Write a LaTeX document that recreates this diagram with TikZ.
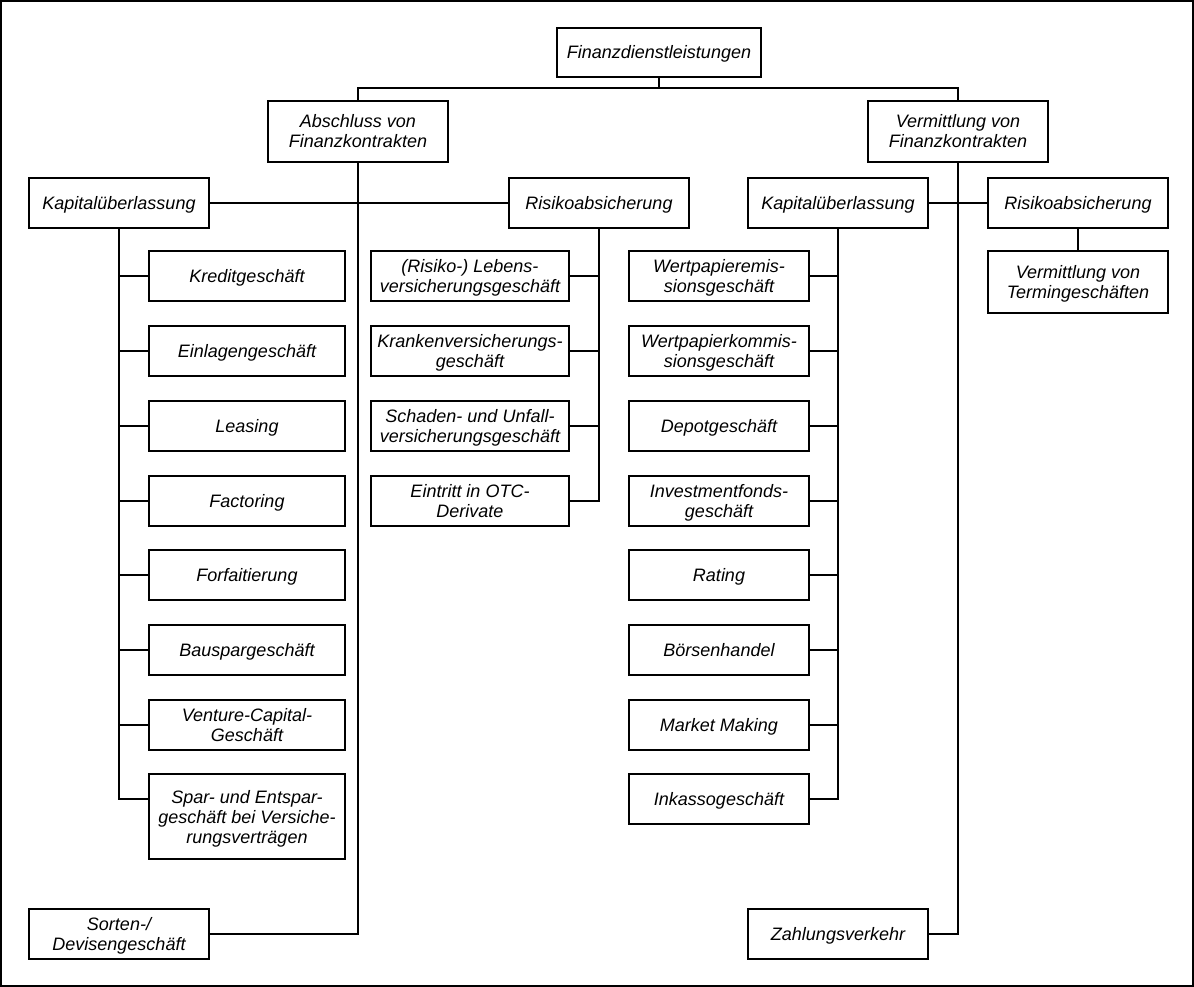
\documentclass[tikz,border=0pt]{standalone}
\usepackage{fontspec}
\setmainfont{Liberation Sans}
\newcommand{\tx}[1]{\raisebox{-2.5pt}[\height][\depth]{\begin{tabular}{@{}c@{}}#1\end{tabular}}}
\begin{document}
\begin{tikzpicture}[x=1pt,y=-1pt,
  box/.style={draw, line width=1.2pt, inner sep=0pt,
    font=\itshape\fontsize{18}{20}\selectfont, minimum height=50pt},
  wA/.style={minimum width=180pt},
  wL/.style={minimum width=196pt},
  wR/.style={minimum width=198pt},
  conn/.style={line width=1.2pt}]
\useasboundingbox (0,0) rectangle (1194,987);
\draw[line width=1.5pt] (1,1) rectangle (1193,986);

% top levels
\node[box, minimum width=204pt, minimum height=49pt] (root) at (659,52.5) {\tx{Finanzdienstleistungen}};
\node[box, wA, minimum height=61pt] (abs) at (358,131.5) {\tx{Abschluss von\\Finanzkontrakten}};
\node[box, wA, minimum height=61pt] (ver) at (958,131.5) {\tx{Vermittlung von\\Finanzkontrakten}};
\coordinate (j) at (659,88);

\node[box, wA] (kl) at (119,203) {\tx{Kapitalüberlassung}};
\node[box, wA] (rl) at (599,203) {\tx{Risikoabsicherung}};
\node[box, wA] (kr) at (838,203) {\tx{Kapitalüberlassung}};
\node[box, wA] (rr) at (1078,203) {\tx{Risikoabsicherung}};

% left children
\node[box, wL] (l1) at (247,276) {\tx{Kreditgeschäft}};
\node[box, wL] (l2) at (247,351) {\tx{Einlagengeschäft}};
\node[box, wL] (l3) at (247,426) {\tx{Leasing}};
\node[box, wL] (l4) at (247,501) {\tx{Factoring}};
\node[box, wL] (l5) at (247,575) {\tx{Forfaitierung}};
\node[box, wL] (l6) at (247,650) {\tx{Bauspargeschäft}};
\node[box, wL] (l7) at (247,725) {\tx{Venture-Capital-\\Geschäft}};
\node[box, wL, minimum height=85pt] (l8) at (247,816.5) {\tx{Spar- und Entspar-\\geschäft bei Versiche-\\rungsverträgen}};

% risk children (left)
\node[box, wR] (r1) at (470,276) {\tx{(Risiko-) Lebens-\\versicherungsgeschäft}};
\node[box, wR] (r2) at (470,351) {\tx{Krankenversicherungs-\\geschäft}};
\node[box, wR] (r3) at (470,426) {\tx{Schaden- und Unfall-\\versicherungsgeschäft}};
\node[box, wR] (r4) at (470,501) {\tx{Eintritt in OTC-\\Derivate}};

% right children
\node[box, wA] (k1) at (719,276) {\tx{Wertpapieremis-\\sionsgeschäft}};
\node[box, wA] (k2) at (719,351) {\tx{Wertpapierkommis-\\sionsgeschäft}};
\node[box, wA] (k3) at (719,426) {\tx{Depotgeschäft}};
\node[box, wA] (k4) at (719,501) {\tx{Investmentfonds-\\geschäft}};
\node[box, wA] (k5) at (719,575) {\tx{Rating}};
\node[box, wA] (k6) at (719,650) {\tx{Börsenhandel}};
\node[box, wA] (k7) at (719,725) {\tx{Market Making}};
\node[box, wA] (k8) at (719,799) {\tx{Inkassogeschäft}};

\node[box, wA, minimum height=62pt] (term) at (1078,282) {\tx{Vermittlung von\\Termingeschäften}};

\node[box, wA] (sort) at (119,934) {\tx{Sorten-/\\Devisengeschäft}};
\node[box, wA] (zahl) at (838,934) {\tx{Zahlungsverkehr}};

% connectors
\draw[conn] (root.south) -- (j);
\draw[conn] (abs.north) -- (abs.north |- j) -- (ver.north |- j) -- (ver.north);
\draw[conn] (kl.east) -- (rl.west);
\draw[conn] (kr.east) -- (rr.west);
\draw[conn] (abs.south) |- (sort.east);
\draw[conn] (ver.south) |- (zahl.east);
\draw[conn] (rr.south) -- (term.north);

\foreach \c in {l1,l2,l3,l4,l5,l6,l7}
  \draw[conn] (kl.south) |- (\c.west);
\draw[conn] (kl.south) |- ([yshift=17.5pt]l8.west);

\foreach \c in {r1,r2,r3,r4}
  \draw[conn] (rl.south) |- (\c.east);

\foreach \c in {k1,k2,k3,k4,k5,k6,k7,k8}
  \draw[conn] (kr.south) |- (\c.east);
\end{tikzpicture}
\end{document}
